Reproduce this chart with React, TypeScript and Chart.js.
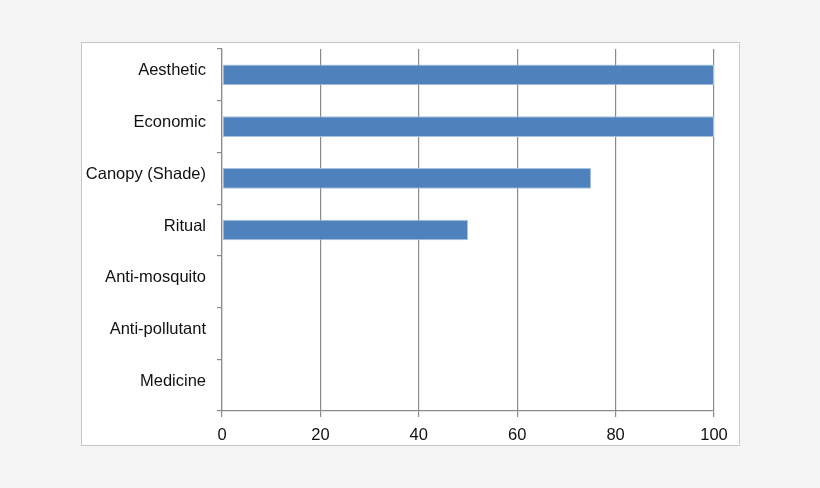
import { useEffect, useRef } from "react";
import { Chart, registerables } from "chart.js";

Chart.register(...registerables);

const categories = [
  "Aesthetic",
  "Economic",
  "Canopy (Shade)",
  "Ritual",
  "Anti-mosquito",
  "Anti-pollutant",
  "Medicine",
];
const values = [100, 100, 75, 50, 0, 0, 0];
const xTicks = [0, 20, 40, 60, 80, 100];

const FONT = "'Liberation Sans', Arial, sans-serif";
const GRID = "#8a8a8a";

export default function App() {
  const canvasRef = useRef<HTMLCanvasElement>(null);

  useEffect(() => {
    const ctx = canvasRef.current?.getContext("2d");
    if (!ctx) return;

    const chart = new Chart(ctx, {
      type: "bar",
      data: {
        labels: categories,
        datasets: [
          {
            data: values,
            backgroundColor: "#4f81bd",
            borderColor: "#a9c1e0",
            borderWidth: 1,
            borderSkipped: false,
            categoryPercentage: 1,
            barPercentage: 0.4,
          },
        ],
      },
      options: {
        indexAxis: "y",
        animation: false,
        responsive: false,
        devicePixelRatio: 1,
        layout: { padding: { top: 6, right: 25, bottom: 0, left: 0 } },
        plugins: {
          legend: { display: false },
          tooltip: { enabled: false },
        },
        scales: {
          x: {
            min: 0,
            max: 100,
            afterBuildTicks: (axis) => {
              axis.ticks = xTicks.map((v) => ({ value: v }));
            },
            afterFit: (axis) => {
              axis.height = 34;
            },
            grid: {
              color: GRID,
              lineWidth: 1.2,
              tickLength: 6,
            },
            border: { color: GRID, width: 1.2 },
            ticks: {
              color: "#111",
              padding: 9,
              font: { family: FONT, size: 16.5 },
            },
          },
          y: {
            afterFit: (axis: any) => {
              axis.width = 140;
              axis.paddingTop = 0;
              axis.paddingBottom = 0;
            },
            grid: {
              offset: true,
              drawOnChartArea: false,
              color: GRID,
              lineWidth: 1.2,
              tickLength: 5,
            },
            border: { color: GRID, width: 1.2 },
            ticks: {
              color: "#111",
              padding: 11,
              labelOffset: -4,
              font: { family: FONT, size: 16.5 },
            },
          },
        },
      },
    });

    return () => {
      chart.destroy();
    };
  }, []);

  return (
    <div
      style={{
        position: "fixed",
        left: 0,
        top: 0,
        width: 820,
        height: 488,
        background: "#f5f5f5",
      }}
    >
      <div
        style={{
          position: "absolute",
          left: 81,
          top: 42,
          width: 657,
          height: 402,
          background: "#fff",
          border: "1px solid #c8c8c8",
        }}
      >
        <canvas ref={canvasRef} width={657} height={402} style={{ display: "block" }} />
      </div>
    </div>
  );
}
